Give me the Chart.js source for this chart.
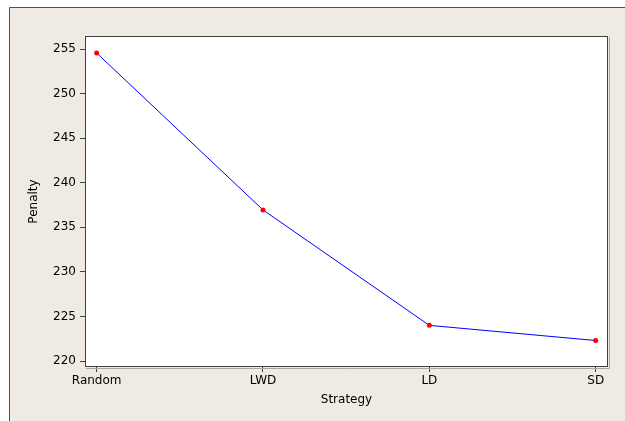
<!DOCTYPE html>
<html>
<head>
<meta charset="utf-8">
<script src="https://cdn.jsdelivr.net/npm/chart.js@4"></script>
<style>
  html, body { margin: 0; padding: 0; background: #ffffff; }
  #wrap { width: 625px; height: 421px; position: relative; }
</style>
</head>
<body>
<div id="wrap"><canvas id="c" width="625" height="421"></canvas></div>
<script>
/* ===== Data ===== */
const strategies = ["Random", "LWD", "LD", "SD"];
const penalty = [254.55, 236.95, 224.0, 222.3];
const yTicks = [220, 225, 230, 235, 240, 245, 250, 255];

const FONT = { family: "DejaVu Sans", size: 12 };

// beige panel + frame, plot box with shadow
const framePlugin = {
  id: "frame",
  beforeDraw(chart) {
    const { ctx, chartArea: a } = chart;
    ctx.save();
    ctx.fillStyle = "#efebe2";
    ctx.fillRect(9, 7, chart.width - 9, chart.height - 7);
    ctx.strokeStyle = "#505050";
    ctx.lineWidth = 1;
    ctx.beginPath();
    ctx.moveTo(9.5, chart.height);
    ctx.lineTo(9.5, 7.5);
    ctx.lineTo(chart.width, 7.5);
    ctx.stroke();
    ctx.fillStyle = "#ffffff";
    ctx.fillRect(a.left, a.top, a.right - a.left, a.bottom - a.top);
    ctx.restore();
  },
  afterDatasetsDraw(chart) {
    const { ctx, chartArea: a } = chart;
    ctx.save();
    ctx.strokeStyle = "#a8a8a8";
    ctx.lineWidth = 1;
    ctx.beginPath();
    ctx.moveTo(a.right + 1.5, a.top + 1);
    ctx.lineTo(a.right + 1.5, a.bottom + 1.5);
    ctx.lineTo(a.left + 1, a.bottom + 1.5);
    ctx.stroke();
    ctx.strokeStyle = "#404040";
    ctx.lineWidth = 1;
    ctx.strokeRect(a.left + 0.5, a.top + 0.5, a.right - a.left - 1, a.bottom - a.top - 1);
    ctx.restore();
  },
};

new Chart(document.getElementById("c"), {
  type: "line",
  data: {
    datasets: [{
      data: penalty.map((v, i) => ({ x: i, y: v })),
      borderColor: "#0000ff",
      borderWidth: 1,
      pointBackgroundColor: "#ff0000",
      pointBorderColor: "#ff0000",
      pointRadius: 2.5,
      pointBorderWidth: 0,
      tension: 0,
    }],
  },
  options: {
    responsive: false,
    animation: false,
    layout: { padding: { left: 0, top: 36, right: 17, bottom: 0 } },
    plugins: { legend: { display: false }, tooltip: { enabled: false } },
    scales: {
      x: {
        type: "linear",
        min: -0.07,
        max: 3.074,
        afterBuildTicks(s) { s.ticks = strategies.map((_, i) => ({ value: i })); },
        afterFit(s) { s.height = 54; },
        ticks: {
          autoSkip: false,
          maxRotation: 0,
          padding: 2,
          color: "#000",
          font: FONT,
          callback: (v) => strategies[v],
        },
        grid: { drawOnChartArea: false, drawTicks: true, tickLength: 5, color: "#404040" },
        border: { display: false },
        title: { display: true, text: "Strategy", color: "#000", font: FONT, padding: { top: 0, bottom: 14 } },
      },
      y: {
        min: 219.33,
        max: 256.46,
        afterBuildTicks(s) { s.ticks = yTicks.map((v) => ({ value: v })); },
        afterFit(s) { s.width = 85; },
        ticks: { padding: 4, color: "#000", font: FONT },
        grid: { drawOnChartArea: false, drawTicks: true, tickLength: 5, color: "#404040" },
        border: { display: false },
        title: { display: true, text: "Penalty", color: "#000", font: FONT, padding: { top: 27, bottom: 0 } },
      },
    },
  },
  plugins: [framePlugin],
});
</script>
</body>
</html>
